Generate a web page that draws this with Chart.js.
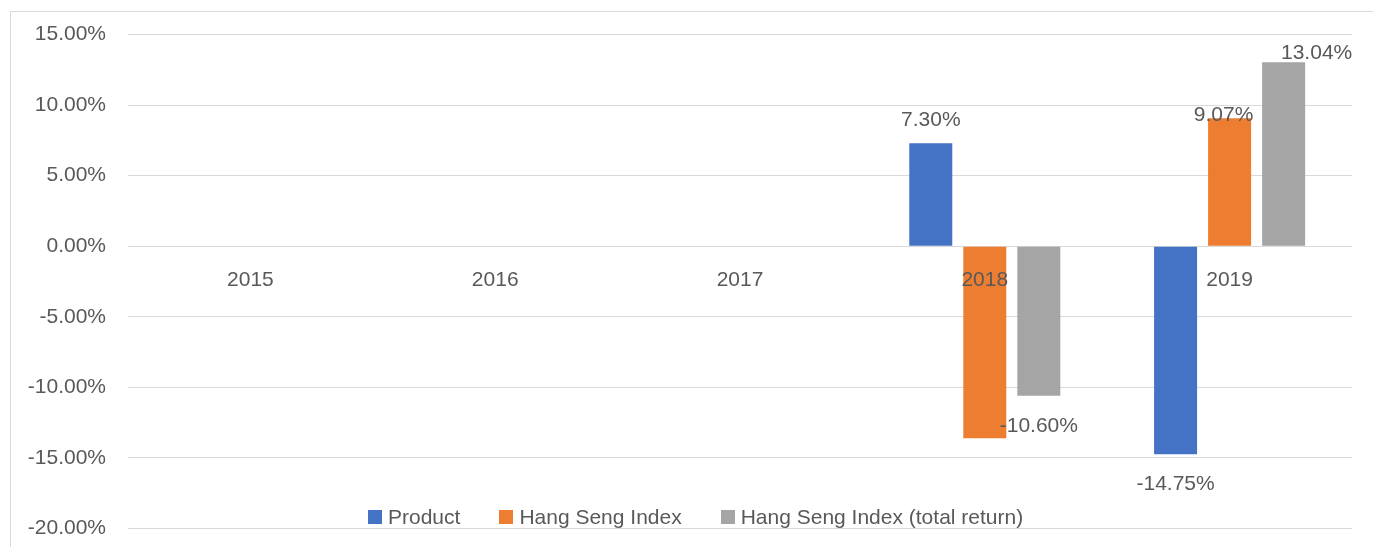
<!DOCTYPE html>
<html>
<head>
<meta charset="utf-8">
<script src="https://cdn.jsdelivr.net/npm/chart.js@4/dist/chart.umd.min.js"></script>
<style>
  html, body { margin: 0; padding: 0; background: #fff; }
  #wrap { position: relative; width: 1373px; height: 547px; overflow: hidden; }
  #frame { position: absolute; left: 10px; top: 11px; width: 1380px; height: 560px; border: 1px solid #d9d9d9; box-sizing: border-box; }
  #c { position: absolute; left: 0; top: 0; }
  #legend { position: absolute; left: 368px; top: 505px; display: flex; font-family: "Liberation Sans", Arial, sans-serif; font-size: 21px; color: #595959; white-space: nowrap; }
  #legend .item { display: flex; align-items: center; margin-right: 39px; }
  #legend .sw { width: 14px; height: 14px; margin-right: 6px; }
</style>
</head>
<body>
<div id="wrap">
  <div id="frame"></div>
  <canvas id="c" width="1373" height="563"></canvas>
  <div id="legend"></div>
</div>
<script>
const categories = ['2015', '2016', '2017', '2018', '2019'];
const seriesNames = ['Product', 'Hang Seng Index', 'Hang Seng Index (total return)'];
const productValues = [null, null, null, 7.30, -14.75];
const hsiValues = [null, null, null, -13.61, 9.07];
const hsiTotalValues = [null, null, null, -10.60, 13.04];
// which values carry a data label (the 2018 Hang Seng Index bar has none)
const productLabelShown = [false, false, false, true, true];
const hsiLabelShown = [false, false, false, false, true];
const hsiTotalLabelShown = [false, false, false, true, true];
const yTicks = [-20, -15, -10, -5, 0, 5, 10, 15];

const colors = ['#4472C4', '#ED7D31', '#A5A5A5'];
const FONT = '"Liberation Sans", Arial, sans-serif';
const TEXT = '#595959';
const labelShown = [productLabelShown, hsiLabelShown, hsiTotalLabelShown];

// legend (HTML text)
const lg = document.getElementById('legend');
seriesNames.forEach((n, i) => {
  const it = document.createElement('div'); it.className = 'item';
  const sw = document.createElement('div'); sw.className = 'sw'; sw.style.background = colors[i];
  const tx = document.createElement('span'); tx.textContent = n;
  it.appendChild(sw); it.appendChild(tx); lg.appendChild(it);
});

// per-label nudges (style only)
const labelNudge = {
  '1-4': { dx: -6, dy: 20 },
  '2-4': { dx: 33, dy: 14 }
};

const labelPlugin = {
  id: 'barLabels',
  afterDatasetsDraw(chart) {
    const ctx = chart.ctx;
    ctx.save();
    ctx.font = '21px ' + FONT;
    ctx.fillStyle = TEXT;
    ctx.textAlign = 'center';
    ctx.textBaseline = 'middle';
    chart.data.datasets.forEach((ds, di) => {
      const meta = chart.getDatasetMeta(di);
      meta.data.forEach((bar, i) => {
        const v = ds.data[i];
        if (v === null || v === undefined || !labelShown[di][i]) return;
        const nudge = labelNudge[di + '-' + i] || { dx: 0, dy: 0 };
        const y = v >= 0 ? bar.y - 23.5 : bar.y + 30;
        ctx.fillText(v.toFixed(2) + '%', bar.x + nudge.dx, y + nudge.dy);
      });
    });
    ctx.restore();
  }
};

new Chart(document.getElementById('c'), {
  type: 'bar',
  data: {
    labels: categories,
    datasets: [
      { label: seriesNames[0], data: productValues, backgroundColor: colors[0] },
      { label: seriesNames[1], data: hsiValues, backgroundColor: colors[1] },
      { label: seriesNames[2], data: hsiTotalValues, backgroundColor: colors[2] }
    ]
  },
  options: {
    responsive: false,
    animation: false,
    devicePixelRatio: 1,
    layout: { padding: { left: 10, right: 21, top: 29, bottom: 0 } },
    datasets: { bar: { categoryPercentage: 0.662, barPercentage: 0.796 } },
    plugins: { legend: { display: false }, tooltip: { enabled: false } },
    scales: {
      x: {
        position: { y: 0 },
        afterFit: (axis) => { axis.height = 0; },
        grid: { display: false },
        border: { display: false },
        ticks: { z: 1, color: TEXT, font: { family: FONT, size: 21 }, padding: 13, maxRotation: 0 }
      },
      y: {
        min: -20, max: 15,
        afterBuildTicks: (axis) => { axis.ticks = yTicks.map(v => ({ value: v })); },
        afterFit: (axis) => { axis.width = 118; },
        grid: { color: '#d9d9d9', lineWidth: 1, drawTicks: false },
        border: { display: false },
        ticks: { color: TEXT, font: { family: FONT, size: 21 }, padding: 22,
                 callback: (v) => v.toFixed(2) + '%' }
      }
    }
  },
  plugins: [labelPlugin]
});
</script>
</body>
</html>
